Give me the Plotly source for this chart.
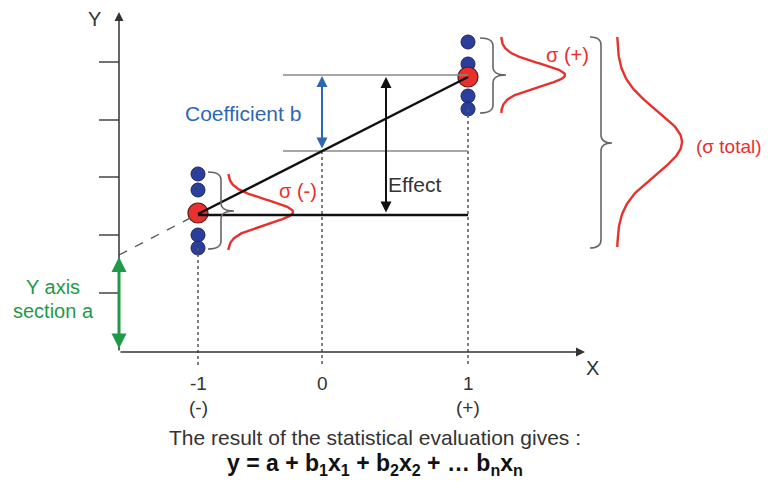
import numpy as np
import plotly.graph_objects as go

# ---- diagram data (diagram coordinates: x to the right, y downward) ----
LEVEL_LABELS = ["-1", "0", "1"]
SIGN_LABELS = ["(-)", "", "(+)"]
LEVEL_X = [198, 322, 468]            # positions of the factor levels
MEAN_MINUS = 214                      # mean response at level -1
MEAN_PLUS = 77                        # mean response at level +1
REPL_MINUS = [174, 190, 235, 248]     # replicate responses at -1
REPL_PLUS = [42, 64, 96, 109]         # replicate responses at +1
Y_TICKS = [62, 120, 177, 235, 293]
ORIGIN = [119, 352]
Y_TOP = 12
X_END = 585
INTERCEPT = 255

FONT = "Liberation Sans, Arial, sans-serif"
RED = "#e8302c"
BLUE = "#2b3e9c"
GREEN = "#1e9a48"
CBLUE = "#2f67b5"
GRAY = "#8a8a8a"
PAGE_OFFSET = 8   # default page margin of the html body

x_m, x_0, x_p = LEVEL_X
mid = MEAN_MINUS + (MEAN_PLUS - MEAN_MINUS) * (x_0 - x_m) / (x_p - x_m)

fig = go.Figure()
shapes = []
ann = []

def line(x0, y0, x1, y1, color, width, dash=None):
    shapes.append(dict(type="line", x0=x0, y0=y0, x1=x1, y1=y1, xref="x", yref="y",
                       line=dict(color=color, width=width, dash=dash)))

def arrow(x0, y0, x1, y1, color, width, both=False, size=1.0):
    ann.append(dict(x=x1, y=y1, ax=x0, ay=y0, xref="x", yref="y", axref="x", ayref="y",
                    text="", showarrow=True, arrowhead=2, arrowsize=size, arrowwidth=width,
                    arrowcolor=color, arrowside="end+start" if both else "end",
                    startarrowhead=2, startarrowsize=size))

def text(x, y, s, color="#333333", size=17, xanchor="center"):
    ann.append(dict(x=x, y=y, xref="x", yref="y", text=s, showarrow=False,
                    font=dict(family=FONT, size=size, color=color),
                    xanchor=xanchor, yanchor="middle"))

def brace(x, y0, y1, ytip, w):
    h = w / 2
    r = min(8, (y1 - y0) / 6)
    p = (f"M {x},{y0} Q {x+h},{y0} {x+h},{y0+r} L {x+h},{ytip-r} "
         f"Q {x+h},{ytip} {x+w},{ytip} Q {x+h},{ytip} {x+h},{ytip+r} "
         f"L {x+h},{y1-r} Q {x+h},{y1} {x},{y1}")
    shapes.append(dict(type="path", path=p, xref="x", yref="y",
                       line=dict(color="#666666", width=1.6)))

# y ticks
for t in Y_TICKS:
    line(99, t, ORIGIN[0], t, "#444444", 1.5)

# dotted verticals
line(x_m, REPL_MINUS[-1], x_m, 366, "#555555", 1.5, "dot")
line(x_0, mid, x_0, 366, "#555555", 1.5, "dot")
line(x_p, REPL_PLUS[-1], x_p, 366, "#555555", 1.5, "dot")

# dashed extrapolation to intercept
line(ORIGIN[0], INTERCEPT, x_m, MEAN_MINUS, "#555555", 1.3, "dash")

# gray reference lines
line(283, MEAN_PLUS - 2, x_p, MEAN_PLUS - 2, GRAY, 1.5)
line(283, mid, x_p, mid, GRAY, 1.5)

# regression & baseline
line(x_m, MEAN_MINUS, x_p, MEAN_PLUS, "#111111", 2.5)
line(x_m, MEAN_MINUS + 1, x_p, MEAN_MINUS + 1, "#111111", 2.5)

# axes
arrow(ORIGIN[0], ORIGIN[1], ORIGIN[0], Y_TOP, "#333333", 1.5, size=1.2)
arrow(ORIGIN[0], ORIGIN[1], X_END, ORIGIN[1], "#333333", 1.5, size=1.2)

# double arrows
arrow(ORIGIN[0], ORIGIN[1] - 2, ORIGIN[0], INTERCEPT + 2, GREEN, 3, both=True, size=1.0)
arrow(x_0, mid - 1, x_0, MEAN_PLUS - 1, CBLUE, 2, both=True, size=1.1)
arrow(386, MEAN_MINUS, 386, MEAN_PLUS, "#111111", 2, both=True, size=1.1)

# braces
brace(208, 172, 249, 211, 26)
brace(480, 38, 113, 75, 26)
brace(590, 37, 248, 143, 22)

# gaussian curves
def gauss(base, amp, yc, half, s):
    yy = np.linspace(yc - half, yc + half, 120)
    xx = base + amp * np.exp(-0.5 * ((yy - yc) / s) ** 2)
    fig.add_trace(go.Scatter(x=xx, y=yy, mode="lines", line=dict(color=RED, width=2.4),
                             hoverinfo="skip", showlegend=False))

gauss(228, 65, 212, 38, 12)
gauss(501, 64, 75, 38, 11.5)
gauss(617, 65, 142, 105, 32)

# replicate points
fig.add_trace(go.Scatter(x=[x_m] * len(REPL_MINUS) + [x_p] * len(REPL_PLUS),
                         y=REPL_MINUS + REPL_PLUS, mode="markers",
                         marker=dict(size=14, color=BLUE, line=dict(color="#1a2460", width=1)),
                         showlegend=False, hoverinfo="skip"))
# means
fig.add_trace(go.Scatter(x=[x_m, x_p], y=[MEAN_MINUS - 1, MEAN_PLUS], mode="markers",
                         marker=dict(size=20, color=RED, line=dict(color="#5a1a1a", width=1.2)),
                         showlegend=False, hoverinfo="skip"))

# labels
text(94, 19, "Y", size=20)
text(592, 368, "X", size=20)
for xl, lab, sg in zip(LEVEL_X, LEVEL_LABELS, SIGN_LABELS):
    text(xl, 383, lab, size=19)
    if sg:
        text(xl, 407, sg, size=19)
text(243, 113, "Coefficient b", color=CBLUE, size=21)
text(414, 184, "Effect", size=21)
text(298, 191, "σ (-)", color=RED, size=20)
text(567, 55, "σ (+)", color=RED, size=20)
text(729, 146, "(σ total)", color=RED, size=19)
text(53, 287, "Y axis", color=GREEN, size=20)
text(53, 311, "section a", color=GREEN, size=20)
text(375, 437, "The result of the statistical evaluation gives :", size=21)
text(375, 464, "<b>y = a + b<sub>1</sub>x<sub>1</sub> + b<sub>2</sub>x<sub>2</sub> + … "
               "b<sub>n</sub>x<sub>n</sub></b>", color="#111111", size=23)

fig.update_layout(
    width=771, height=481, margin=dict(l=0, r=0, t=0, b=0),
    paper_bgcolor="white", plot_bgcolor="white",
    xaxis=dict(range=[PAGE_OFFSET, 771 + PAGE_OFFSET], visible=False, fixedrange=True),
    yaxis=dict(range=[481 + PAGE_OFFSET, PAGE_OFFSET], visible=False, fixedrange=True),
    shapes=shapes, annotations=ann, showlegend=False,
)
fig.write_html("out.html")
